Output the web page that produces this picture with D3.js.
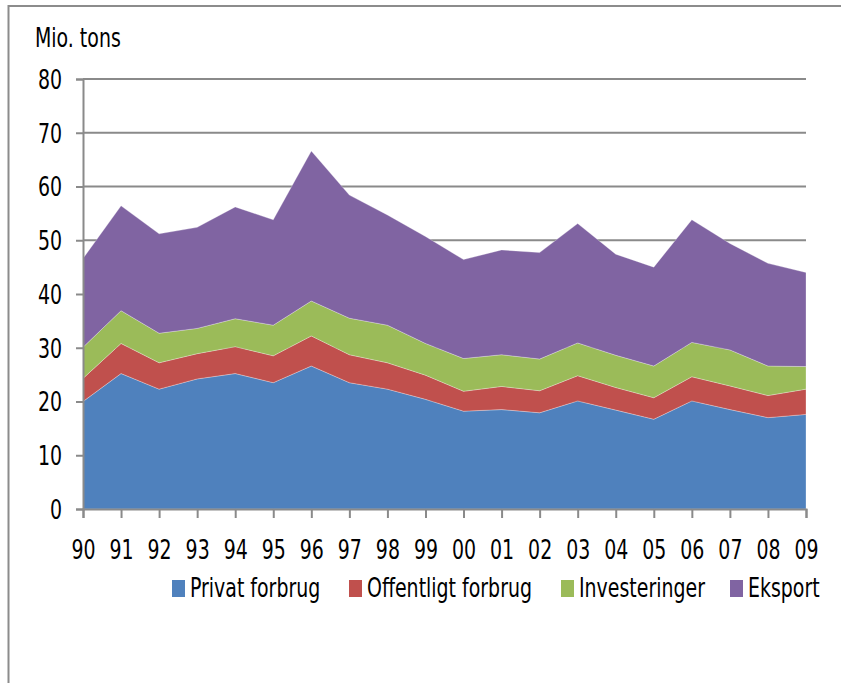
<!DOCTYPE html>
<html>
<head>
<meta charset="utf-8">
<script src="https://cdn.jsdelivr.net/npm/d3@7"></script>
<style>
  body { margin: 0; background: #fff; overflow: hidden; }
  svg { display: block; }
  text { font-family: "Liberation Sans Narrow", "DejaVu Sans Condensed", "DejaVu Sans", sans-serif; fill: #000; }
</style>
</head>
<body>
<div id="chart"></div>
<script>
(function(d3) {
  'use strict';

  var years = ['90', '91', '92', '93', '94', '95', '96', '97', '98', '99',
               '00', '01', '02', '03', '04', '05', '06', '07', '08', '09'];
  var privat = [20.0, 25.2, 22.3, 24.2, 25.2, 23.5, 26.6, 23.5, 22.3, 20.4,
                18.2, 18.5, 17.9, 20.1, 18.4, 16.7, 20.1, 18.5, 17.0, 17.6];
  var offentligt = [4.3, 5.6, 4.9, 4.7, 5.0, 5.0, 5.6, 5.2, 4.9, 4.5,
                    3.7, 4.3, 4.1, 4.7, 4.2, 4.0, 4.5, 4.4, 4.1, 4.7];
  var investeringer = [5.8, 6.1, 5.5, 4.7, 5.2, 5.7, 6.5, 6.8, 7.0, 5.9,
                       6.1, 5.9, 5.9, 6.1, 6.0, 5.9, 6.4, 6.7, 5.5, 4.2];
  var eksport = [16.5, 19.5, 18.5, 18.8, 20.8, 19.6, 27.9, 22.9, 20.5, 19.9,
                 18.4, 19.5, 19.8, 22.2, 18.8, 18.4, 22.8, 19.8, 19.1, 17.5];
  var seriesNames = ['Privat forbrug', 'Offentligt forbrug', 'Investeringer', 'Eksport'];
  var colors = ['#4F81BD', '#C0504D', '#9BBB59', '#8064A2'];
  var yTicks = [0, 10, 20, 30, 40, 50, 60, 70, 80];

  var width = 841;
  var height = 683;
  var margin = { left: 83, right: 35, top: 79, bottom: 174 };
  var fontSize = '26px';
  var squeeze = 0.81; // the original font is a narrow one

  var table = years.map(function(y, i) {
    return {
      year: y,
      'Privat forbrug': privat[i],
      'Offentligt forbrug': offentligt[i],
      'Investeringer': investeringer[i],
      'Eksport': eksport[i]
    };
  });

  var layers = d3.stack().keys(seriesNames)(table);

  var x = d3.scalePoint()
    .domain(years)
    .range([margin.left, width - margin.right]);

  var y = d3.scaleLinear()
    .domain([0, 80])
    .range([height - margin.bottom, margin.top]);

  var color = d3.scaleOrdinal().domain(seriesNames).range(colors);

  var svg = d3.select('#chart')
    .append('svg')
    .attr('width', width)
    .attr('height', height);

  // outer frame (right and bottom edges fall outside the picture)
  svg.append('rect')
    .attr('x', 8.5).attr('y', 6)
    .attr('width', 900).attr('height', 700)
    .attr('fill', 'none')
    .attr('stroke', '#8c8c8c')
    .attr('stroke-width', 2);

  // gridlines
  svg.append('g')
    .selectAll('line')
    .data(yTicks.slice(1))
    .enter()
    .append('line')
    .attr('x1', margin.left)
    .attr('x2', width - margin.right)
    .attr('y1', function(d) { return y(d); })
    .attr('y2', function(d) { return y(d); })
    .attr('stroke', '#8a8a8a')
    .attr('stroke-width', 2);

  var area = d3.area()
    .x(function(d) { return x(d.data.year); })
    .y0(function(d) { return y(d[0]); })
    .y1(function(d) { return y(d[1]); });

  svg.append('g')
    .selectAll('path')
    .data(layers)
    .enter()
    .append('path')
    .attr('d', area)
    .attr('fill', function(d) { return color(d.key); })
    .attr('stroke', 'rgba(255,255,255,0.35)')
    .attr('stroke-width', 0.8);

  // y axis
  var gy = svg.append('g')
    .attr('transform', 'translate(' + margin.left + ',0)')
    .call(d3.axisLeft(y).tickValues(yTicks).tickSize(7).tickPadding(14));
  gy.attr('font-family', null).attr('font-size', null);
  gy.select('.domain').attr('stroke', '#8a8a8a').attr('stroke-width', 2);
  gy.selectAll('.tick line').attr('stroke', '#8a8a8a').attr('stroke-width', 2);
  gy.selectAll('.tick text').attr('dy', '0.36em');

  // x axis
  var gx = svg.append('g')
    .attr('transform', 'translate(0,' + (height - margin.bottom) + ')')
    .call(d3.axisBottom(x).tickSize(9).tickPadding(23));
  gx.attr('font-family', null).attr('font-size', null);
  gx.select('.domain').attr('stroke', '#8a8a8a').attr('stroke-width', 2);
  gx.selectAll('.tick line').attr('stroke', '#8a8a8a').attr('stroke-width', 2);
  gx.selectAll('.tick text').attr('dy', '0.71em');

  // unit label
  svg.append('text')
    .attr('x', 35)
    .attr('y', 47)
    .text('Mio. tons');

  // legend
  var legendX = [172, 349, 561, 730];
  var legend = svg.selectAll('.legend')
    .data(seriesNames)
    .enter()
    .append('g')
    .attr('class', 'legend')
    .attr('transform', function(d, i) {
      return 'translate(' + legendX[i] + ',' + 588 + ')';
    });

  legend.append('rect')
    .attr('x', 0)
    .attr('y', -8)
    .attr('width', 13)
    .attr('height', 17)
    .attr('fill', color);

  legend.append('text')
    .attr('x', 18)
    .attr('y', 0)
    .attr('dy', '0.36em')
    .text(function(d) { return d; });

  // same size for all text, squeezed to a narrow look
  svg.selectAll('text')
    .style('font-size', fontSize)
    .each(function() {
      var w = this.getComputedTextLength();
      d3.select(this)
        .attr('textLength', w * squeeze)
        .attr('lengthAdjust', 'spacingAndGlyphs');
    });

})(window.d3);
</script>
</body>
</html>
